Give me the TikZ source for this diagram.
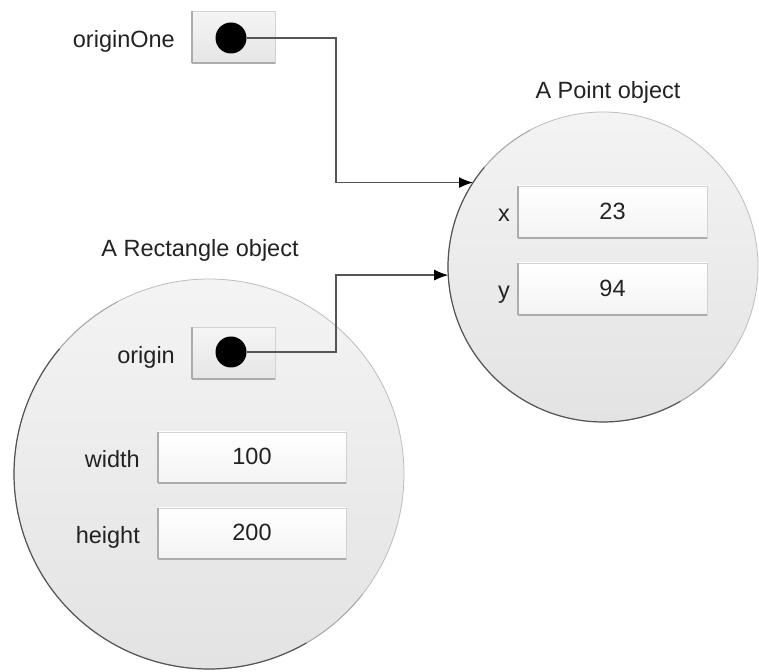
\documentclass[tikz,border=0pt]{standalone}
\usepackage{fontspec}
\setmainfont{Liberation Sans}
\usepackage{tikz}
\usetikzlibrary{positioning,arrows.meta}
\definecolor{objtext}{HTML}{222222}
\definecolor{objline}{HTML}{555555}
\definecolor{objrim}{HTML}{BDBDBD}

\tikzset{
  objcircle/.style={circle, draw=objrim, line width=0.8pt, inner sep=0pt, outer sep=0pt,
    top color=gray!9, bottom color=gray!22},
  rim/.style={draw=objline, line width=1.2pt},
  softrim/.style={draw=gray!65, line width=1pt},
  inset/.style={draw=gray!35, line width=0.8pt, inner sep=0pt, outer sep=0pt,
    append after command={
      (\tikzlastnode.north west) edge[draw=gray!65, line width=1.4pt] (\tikzlastnode.south west)
      (\tikzlastnode.south west) edge[draw=gray!65, line width=2pt] (\tikzlastnode.south east)}},
  refbox/.style={inset, minimum width=83pt, minimum height=52pt,
    top color=gray!8, bottom color=gray!20},
  field/.style={inset, minimum width=188pt, minimum height=51pt,
    top color=white, bottom color=gray!9, text=objtext, text height=15pt, text depth=0pt},
  refdot/.style={circle, fill=black, inner sep=0pt, minimum size=31pt},
  title/.style={inner sep=0pt, text=objtext},
  lbl/.style={title, text height=20pt, text depth=0pt},
  ptr/.style={draw=objline, line width=1.3pt, -{Latex[length=14pt,width=11pt,color=black]}}
}

\begin{document}
\begin{tikzpicture}[x=1pt, y=1pt, font=\fontsize{23.5}{27}\selectfont]
  \useasboundingbox (0,0) rectangle (759,671);

  \node[objcircle, minimum size=390pt] (rectobj) at (209,197) {};
  \node[objcircle, minimum size=310pt] (pointobj) at (603,404) {};
  \draw[softrim] (rectobj.118) arc[start angle=118, end angle=140, radius=195pt];
  \draw[rim] (rectobj.140) arc[start angle=140, end angle=300, radius=195pt];
  \draw[softrim] (rectobj.300) arc[start angle=300, end angle=322, radius=195pt];
  \draw[softrim] (pointobj.118) arc[start angle=118, end angle=140, radius=155pt];
  \draw[rim] (pointobj.140) arc[start angle=140, end angle=300, radius=155pt];
  \draw[softrim] (pointobj.300) arc[start angle=300, end angle=322, radius=155pt];

  \node[title] (pointtitle) at (608,579) {A Point object};
  \node[title] (recttitle) at (200,421) {A Rectangle object};

  \node[refbox] (oneBox) at (233.5,633.5) {};
  \node[lbl, left=17pt of oneBox] (oneLbl) {originOne};
  \node[refdot] (dotA) at (231,633) {};

  \node[refbox] (originBox) at (233.5,317.5) {};
  \node[lbl, left=17pt of originBox] (originLbl) {origin};
  \node[refdot] (dotB) at (231,319) {};

  \node[field] (widthBox) at (252,213.5) {100};
  \node[lbl, left=18pt of widthBox] (widthLbl) {width};
  \node[field] (heightBox) at (252,137.5) {200};
  \node[lbl, left=18pt of heightBox] (heightLbl) {height};

  \node[field, minimum width=189pt, minimum height=52pt] (xBox) at (612.5,459) {23};
  \node[lbl, left=8pt of xBox] (xLbl) {x};
  \node[field, minimum width=189pt, minimum height=52pt] (yBox) at (612.5,382) {94};
  \node[lbl, left=8pt of yBox] (yLbl) {y};

  \coordinate (elbow) at (336,0);
  \draw[ptr] (dotA.east) -- (dotA.east -| elbow) |- (pointobj.147);
  \draw[ptr] (dotB.east) -- (dotB.east -| elbow) |- (pointobj.183);
\end{tikzpicture}
\end{document}
